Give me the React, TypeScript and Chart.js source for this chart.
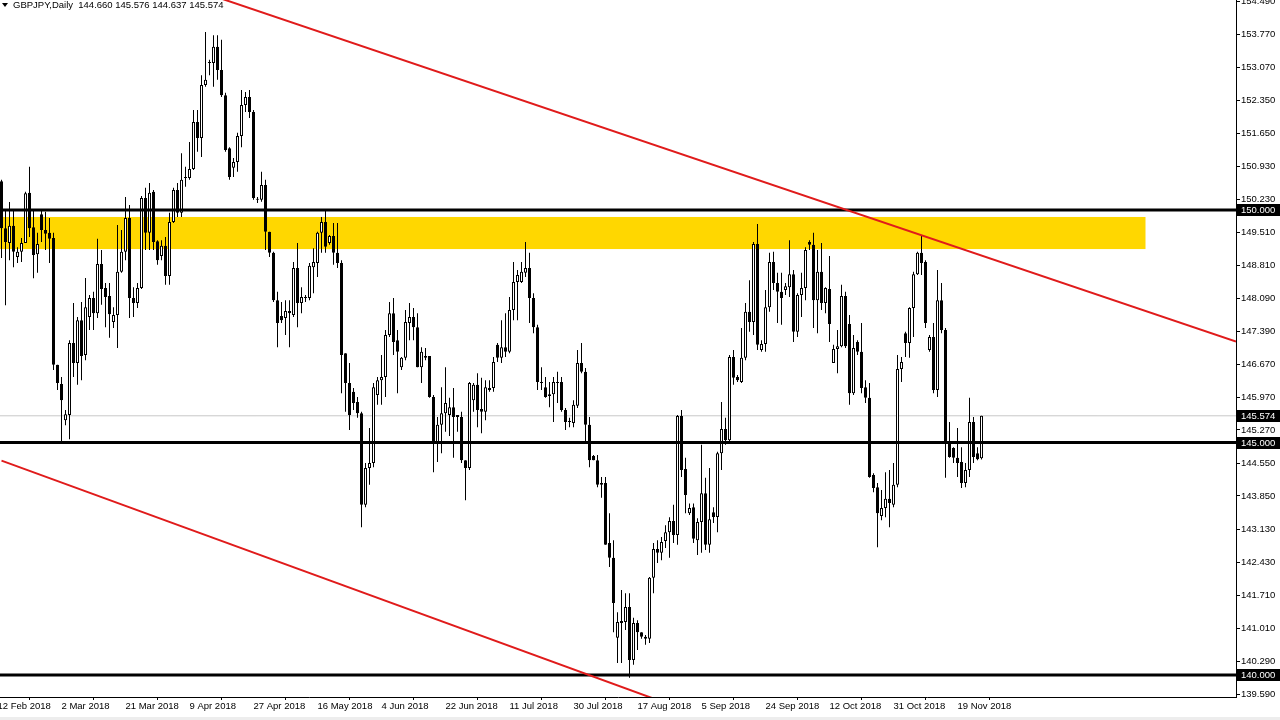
import React, { useEffect, useRef } from 'react';
import { Chart, registerables } from 'chart.js';

Chart.register(...registerables);

// ---- Daily GBPJPY candles (one per bar, Sunday bars included) ----
const opens = [
  150.62, 149.61, 149.29, 149.66, 148.99, 149.10, 149.29, 150.37, 149.63, 149.05,
  149.91, 149.57, 149.51, 149.40, 146.67, 146.26, 145.48, 145.59, 147.14, 146.71,
  147.63, 146.88, 147.70, 148.11, 147.78, 148.84, 148.32, 148.15, 147.59, 147.74,
  148.67, 149.10, 149.83, 148.11, 148.00, 148.32, 150.26, 149.51, 150.39, 149.33,
  149.01, 149.23, 148.58, 149.74, 150.43, 149.94, 150.69, 150.69, 150.88, 151.89,
  151.55, 152.69, 153.16, 153.16, 153.51, 153.01, 152.47, 151.33, 150.91, 151.03,
  151.59, 152.26, 152.43, 152.11, 150.24, 150.22, 150.54, 149.53, 149.08, 148.06,
  147.72, 147.68, 147.83, 147.74, 148.75, 148.00, 148.11, 148.11, 148.77, 148.86,
  149.51, 149.74, 149.29, 149.44, 149.08, 148.86, 146.92, 146.28, 146.09, 145.87,
  145.63, 143.66, 144.45, 144.56, 146.02, 146.34, 146.41, 147.31, 147.78, 147.20,
  146.62, 146.82, 147.57, 147.70, 147.48, 146.62, 146.82, 146.86, 145.98, 145.01,
  145.38, 145.63, 145.59, 145.76, 145.59, 145.55, 144.62, 144.45, 145.91, 146.24,
  145.72, 145.66, 146.13, 146.17, 147.10, 146.82, 147.05, 146.95, 147.85, 148.45,
  148.45, 148.65, 148.75, 148.11, 147.48, 146.30, 146.19, 146.00, 146.04, 146.30,
  146.30, 145.70, 145.44, 145.42, 145.79, 146.71, 146.52, 145.38, 144.71, 144.62,
  144.09, 144.13, 142.84, 142.52, 140.80, 141.16, 141.14, 141.46, 140.32, 141.12,
  140.92, 140.82, 140.78, 142.09, 142.71, 142.63, 142.88, 143.07, 143.31, 143.01,
  145.57, 144.43, 143.48, 143.61, 142.90, 143.29, 143.91, 142.80, 143.50, 143.40,
  144.77, 145.29, 145.05, 146.84, 146.41, 146.30, 146.82, 147.81, 147.59, 149.27,
  146.99, 147.12, 147.91, 148.88, 148.43, 148.24, 148.28, 148.34, 148.62, 147.38,
  148.17, 148.32, 149.31, 149.25, 148.06, 148.67, 148.00, 148.30, 146.71, 147.01,
  147.07, 148.15, 147.55, 146.06, 147.16, 146.95, 146.19, 145.96, 144.30, 144.04,
  143.42, 143.59, 143.79, 143.66, 144.09, 146.58, 147.35, 147.14, 147.89, 148.62,
  149.08, 148.88, 146.99, 147.27, 146.13, 148.06, 147.42, 144.99, 144.88, 144.67,
  144.58, 144.13, 144.41, 145.44, 144.77, 144.66,
];
const highs = [
  150.65, 150.00, 150.17, 150.00, 149.20, 149.40, 150.39, 150.93, 150.00, 149.51,
  150.00, 149.96, 149.83, 149.51, 146.67, 146.41, 145.70, 147.20, 148.00, 147.70,
  148.02, 148.54, 148.17, 148.24, 149.38, 149.14, 148.43, 148.43, 147.91, 149.68,
  149.57, 150.28, 150.11, 148.34, 148.43, 150.30, 150.48, 150.58, 150.43, 149.35,
  149.35, 149.42, 149.94, 150.48, 150.58, 151.22, 150.93, 151.46, 152.15, 152.15,
  152.90, 153.83, 153.23, 153.76, 153.76, 153.66, 152.52, 151.35, 151.12, 151.66,
  152.58, 152.54, 152.58, 152.15, 150.28, 150.82, 150.65, 149.53, 149.10, 148.24,
  148.02, 148.06, 148.06, 148.88, 149.29, 148.34, 148.17, 148.86, 149.18, 149.53,
  149.85, 150.00, 149.46, 149.72, 149.72, 148.92, 146.92, 146.71, 146.17, 145.98,
  145.66, 144.56, 145.31, 146.28, 146.41, 146.88, 147.42, 148.02, 148.11, 147.42,
  146.84, 147.85, 148.00, 147.89, 147.78, 147.05, 147.03, 146.86, 146.02, 145.55,
  146.19, 146.62, 145.96, 146.17, 145.59, 145.66, 144.62, 146.30, 146.28, 146.49,
  146.39, 146.34, 146.34, 146.84, 147.14, 147.63, 147.78, 148.13, 148.88, 148.71,
  148.88, 149.31, 149.08, 148.21, 147.53, 146.62, 146.41, 146.30, 146.41, 146.52,
  146.41, 145.74, 145.53, 145.91, 146.99, 147.14, 146.60, 145.55, 144.73, 144.73,
  144.26, 144.26, 143.48, 142.90, 141.35, 141.83, 141.76, 141.76, 141.23, 141.18,
  140.92, 140.86, 142.11, 142.84, 142.90, 142.97, 143.22, 143.39, 143.66, 145.59,
  145.70, 144.67, 143.69, 143.69, 143.37, 144.95, 144.24, 144.45, 143.61, 144.80,
  145.87, 145.53, 146.88, 146.99, 146.45, 147.46, 148.00, 148.49, 149.31, 149.70,
  147.20, 148.28, 149.08, 149.10, 148.65, 148.65, 148.43, 149.35, 148.71, 148.21,
  148.65, 149.20, 149.35, 149.51, 149.14, 149.29, 148.34, 149.01, 147.10, 147.42,
  148.39, 148.24, 147.74, 147.31, 147.20, 147.57, 146.34, 146.28, 144.34, 144.13,
  143.98, 144.36, 144.41, 144.56, 146.88, 146.84, 147.38, 147.91, 148.67, 149.10,
  149.46, 148.92, 147.31, 147.57, 148.71, 148.43, 147.46, 145.44, 144.90, 145.31,
  144.90, 144.56, 145.96, 145.55, 144.90, 145.576,
];
const lows = [
  148.97, 147.95, 148.92, 148.77, 148.86, 148.88, 149.29, 149.42, 148.53, 148.65,
  149.31, 149.14, 148.86, 146.56, 146.13, 144.99, 145.37, 145.07, 146.41, 146.24,
  146.34, 146.77, 147.42, 147.42, 147.68, 147.96, 147.48, 147.25, 147.46, 147.03,
  148.65, 148.92, 147.68, 147.70, 147.89, 148.30, 149.14, 149.14, 149.14, 148.82,
  148.92, 148.39, 148.39, 149.72, 149.85, 149.85, 150.50, 150.65, 150.86, 151.25,
  151.14, 152.65, 152.90, 152.65, 152.80, 152.43, 151.25, 150.65, 150.71, 150.82,
  151.35, 152.11, 151.98, 150.22, 150.15, 150.18, 149.14, 148.99, 148.02, 147.05,
  147.57, 147.31, 147.05, 147.70, 147.48, 147.78, 148.02, 148.06, 148.21, 148.56,
  149.08, 149.08, 149.25, 148.82, 148.75, 146.06, 145.66, 145.27, 145.70, 145.53,
  143.18, 143.61, 144.09, 144.47, 145.81, 145.81, 145.98, 147.27, 146.88, 146.06,
  146.56, 146.77, 147.20, 147.20, 146.62, 146.28, 146.77, 145.96, 144.36, 144.58,
  144.77, 145.23, 145.14, 144.67, 145.23, 144.56, 143.76, 144.41, 145.66, 145.33,
  145.20, 145.48, 146.09, 146.09, 146.73, 146.71, 146.84, 146.92, 147.63, 147.63,
  148.43, 148.56, 147.57, 147.35, 146.13, 146.13, 145.96, 145.76, 145.44, 145.85,
  145.66, 145.27, 145.33, 145.33, 145.74, 146.49, 144.99, 144.47, 144.62, 144.04,
  143.81, 142.80, 142.32, 140.92, 140.26, 140.26, 140.97, 139.94, 140.22, 140.54,
  140.78, 140.65, 140.69, 141.76, 142.41, 142.47, 142.73, 142.52, 142.84, 142.80,
  144.26, 143.48, 143.44, 142.84, 142.58, 142.63, 142.69, 142.63, 143.27, 143.07,
  144.41, 144.95, 145.01, 146.24, 146.30, 146.28, 146.77, 147.38, 147.31, 146.99,
  146.95, 146.95, 147.81, 148.28, 147.57, 147.53, 148.17, 148.13, 147.16, 147.27,
  147.70, 148.06, 149.14, 147.46, 147.35, 147.85, 147.78, 147.16, 146.71, 146.49,
  147.05, 147.03, 145.81, 146.02, 146.88, 146.06, 145.85, 144.24, 143.93, 142.75,
  143.33, 143.39, 143.18, 143.61, 144.04, 146.30, 146.84, 146.82, 147.27, 148.60,
  148.60, 147.46, 146.95, 146.06, 145.98, 147.35, 144.24, 144.67, 144.56, 144.26,
  144.02, 144.04, 144.26, 144.56, 144.62, 144.637,
];
const closes = [
  149.61, 149.31, 149.66, 149.10, 149.10, 149.29, 150.36, 149.61, 149.03, 149.27,
  149.57, 149.49, 149.38, 146.67, 146.28, 145.91, 145.61, 147.14, 146.71, 147.63,
  146.86, 147.91, 148.11, 147.78, 148.84, 148.30, 148.13, 147.76, 147.74, 148.67,
  149.10, 149.83, 148.11, 148.00, 148.32, 150.26, 149.51, 150.37, 149.31, 148.92,
  149.23, 148.58, 149.74, 150.43, 149.94, 150.65, 150.69, 150.88, 151.89, 151.55,
  152.69, 152.80, 153.16, 153.51, 153.01, 152.47, 151.29, 150.71, 151.03, 151.59,
  152.26, 152.43, 152.11, 150.26, 150.22, 150.54, 149.53, 149.08, 148.06, 147.57,
  147.63, 147.83, 147.78, 148.75, 148.00, 148.13, 148.11, 148.80, 148.88, 149.51,
  149.74, 149.21, 149.44, 149.08, 148.86, 146.88, 146.28, 145.59, 145.85, 145.63,
  143.66, 144.45, 144.56, 146.19, 146.34, 146.41, 147.31, 147.78, 147.16, 146.95,
  146.82, 147.59, 147.70, 147.48, 146.62, 146.95, 146.86, 145.98, 145.01, 145.38,
  145.63, 145.85, 145.76, 145.55, 145.55, 144.62, 144.45, 146.28, 146.24, 145.70,
  145.66, 146.19, 146.17, 146.73, 146.82, 147.05, 146.95, 147.85, 148.45, 148.60,
  148.67, 148.75, 148.11, 147.48, 146.30, 146.28, 145.98, 146.04, 146.30, 146.28,
  145.70, 145.44, 145.44, 145.81, 146.71, 146.52, 145.38, 144.62, 144.62, 144.09,
  144.13, 142.80, 142.52, 141.55, 141.14, 141.12, 141.46, 140.32, 141.12, 140.92,
  140.82, 140.78, 142.09, 142.71, 142.63, 142.86, 143.07, 143.31, 143.01, 145.57,
  144.41, 143.87, 143.59, 142.93, 143.29, 143.91, 142.80, 143.35, 143.40, 144.77,
  145.29, 145.05, 146.84, 146.39, 146.34, 146.82, 147.81, 147.59, 149.27, 147.10,
  147.12, 147.91, 148.88, 148.43, 148.24, 148.11, 148.36, 148.62, 147.38, 148.17,
  148.32, 149.14, 149.25, 148.06, 148.67, 148.00, 148.32, 147.55, 147.01, 147.07,
  148.15, 147.07, 146.06, 147.03, 146.95, 146.17, 145.96, 144.26, 144.02, 143.48,
  143.59, 143.79, 143.70, 144.09, 146.58, 146.73, 147.14, 147.89, 148.62, 149.08,
  148.86, 147.57, 147.27, 146.13, 148.06, 147.42, 144.99, 144.69, 144.67, 144.56,
  144.13, 144.41, 145.44, 144.69, 144.64, 145.574,
];

// ---- axes ----
const xTickBars = [-1, 15, 31, 47, 63, 79, 95, 111, 127, 143, 159, 175, 191, 207, 223, 239];
const xTickLabels = [
  '12 Feb 2018', '2 Mar 2018', '21 Mar 2018', '9 Apr 2018', '27 Apr 2018', '16 May 2018',
  '4 Jun 2018', '22 Jun 2018', '11 Jul 2018', '30 Jul 2018', '17 Aug 2018', '5 Sep 2018',
  '24 Sep 2018', '12 Oct 2018', '31 Oct 2018', '19 Nov 2018',
];
const yTickValues = [
  154.49, 153.77, 153.07, 152.35, 151.65, 150.93, 150.23, 149.51, 148.81, 148.09, 147.39,
  146.67, 145.97, 145.27, 144.55, 143.85, 143.13, 142.43, 141.71, 141.01, 140.29, 139.59,
];
const X_MIN = -0.375;
const X_MAX = 308.625;
const Y_MIN = 139.527;
const Y_MAX = 154.516;

// ---- drawn objects ----
const levelPrices = [150.0, 145.0, 140.0];
const bidPrice = 145.574;
const priceTags = [150.0, 145.574, 145.0, 140.0];
const zoneTop = 149.85;
const zoneBottom = 149.16;
const zoneEndBar = 286;
const upperTrendBars = [50, 308.625];
const upperTrendPrices = [154.69, 147.17];
const lowerTrendBars = [0, 180];
const lowerTrendPrices = [144.61, 138.96];
const headerText = 'GBPJPY,Daily  144.660 145.576 144.637 145.574';

const FONT = 'Liberation Sans';

export default function App() {
  const ref = useRef<HTMLCanvasElement | null>(null);

  useEffect(() => {
    document.body.style.margin = '0';
    document.body.style.overflow = 'hidden';
    const canvas = ref.current;
    if (!canvas) return;

    const bodies = opens.map((o, i) => ({ x: i, y: [o, closes[i]] }));
    const wicks = lows.map((l, i) => ({ x: i, y: [l, highs[i]] }));
    const hLine = (p: number) => [{ x: X_MIN, y: p }, { x: X_MAX, y: p }];

    const zonePlugin = {
      id: 'zone',
      beforeDatasetsDraw(chart: any) {
        const { ctx, chartArea, scales } = chart;
        const xEnd = scales.x.getPixelForValue(zoneEndBar);
        const y1 = scales.y.getPixelForValue(zoneTop);
        const y2 = scales.y.getPixelForValue(zoneBottom);
        ctx.save();
        ctx.fillStyle = '#FFD700';
        ctx.fillRect(chartArea.left, y1, xEnd - chartArea.left, y2 - y1);
        ctx.restore();
      },
    };

    const tagsPlugin = {
      id: 'tags',
      afterDraw(chart: any) {
        const { ctx, scales, chartArea } = chart;
        ctx.save();
        ctx.font = `9.5px "${FONT}"`;
        ctx.textBaseline = 'middle';
        ctx.textAlign = 'left';
        priceTags.forEach((p) => {
          const y = Math.round(scales.y.getPixelForValue(p));
          ctx.fillStyle = '#000';
          ctx.fillRect(chartArea.right + 1, y - 6, 43, 12);
          ctx.fillStyle = '#fff';
          ctx.fillText(p.toFixed(3), chartArea.right + 5, y + 0.5);
        });
        // header
        ctx.fillStyle = '#000';
        ctx.beginPath();
        ctx.moveTo(2, 3);
        ctx.lineTo(8, 3);
        ctx.lineTo(5, 7);
        ctx.closePath();
        ctx.fill();
        ctx.fillText(headerText, 13, 5.5);
        // bottom window edge
        ctx.fillStyle = '#EDEDED';
        ctx.fillRect(0, 717, 1280, 3);
        ctx.restore();
      },
    };

    const chart = new Chart(canvas, {
      type: 'bar',
      data: {
        datasets: [
          {
            type: 'line',
            label: 'upper trend',
            data: upperTrendBars.map((b, i) => ({ x: b, y: upperTrendPrices[i] })),
            borderColor: '#E01B1B',
            borderWidth: 2,
            pointRadius: 0,
            order: 0,
          },
          {
            type: 'line',
            label: 'lower trend',
            data: lowerTrendBars.map((b, i) => ({ x: b, y: lowerTrendPrices[i] })),
            borderColor: '#E01B1B',
            borderWidth: 2,
            pointRadius: 0,
            order: 0,
          },
          ...levelPrices.map((p) => ({
            type: 'line' as const,
            label: 'level ' + p,
            data: hLine(p),
            borderColor: '#000',
            borderWidth: 3,
            pointRadius: 0,
            order: 0,
          })),
          {
            type: 'line',
            label: 'bid',
            data: hLine(bidPrice),
            borderColor: '#C8C8C8',
            borderWidth: 1,
            pointRadius: 0,
            order: 5,
          },
          {
            type: 'bar',
            label: 'bodies',
            data: bodies as any,
            barThickness: 3,
            borderWidth: 1,
            borderSkipped: false,
            minBarLength: 1,
            grouped: false,
            inflateAmount: 0,
            borderColor: '#000',
            backgroundColor: (c: any) => {
              const i = c.dataIndex;
              return closes[i] >= opens[i] ? '#FFFFFF' : '#000000';
            },
            order: 1,
          },
          {
            type: 'bar',
            label: 'wicks',
            data: wicks as any,
            barThickness: 1,
            borderWidth: 0,
            grouped: false,
            inflateAmount: 0,
            backgroundColor: '#000',
            order: 2,
          },
        ] as any,
      },
      options: {
        animation: false,
        responsive: false,
        events: [],
        layout: { padding: 0, autoPadding: false },
        plugins: { legend: { display: false }, tooltip: { enabled: false }, title: { display: false } },
        scales: {
          x: {
            type: 'linear',
            position: 'bottom',
            min: X_MIN,
            max: X_MAX,
            offset: false,
            grid: { display: true, drawOnChartArea: false, drawTicks: true, tickLength: 3, color: '#000' },
            border: { display: true, color: '#000', width: 1 },
            ticks: {
              autoSkip: false,
              align: 'start',
              maxRotation: 0,
              minRotation: 0,
              padding: 1,
              color: '#000',
              font: { family: FONT, size: 9.5 },
              callback: (v: any) => {
                const k = xTickBars.indexOf(Number(v));
                return k >= 0 ? xTickLabels[k] : '';
              },
            },
            afterBuildTicks: (s: any) => {
              s.ticks = xTickBars.map((v) => ({ value: v }));
            },
            afterFit: (s: any) => {
              s.height = 23;
              s.paddingLeft = 0;
              s.paddingRight = 0;
            },
          },
          y: {
            type: 'linear',
            position: 'right',
            min: Y_MIN,
            max: Y_MAX,
            beginAtZero: false,
            grid: { display: true, drawOnChartArea: false, drawTicks: true, tickLength: 4, color: '#000' },
            border: { display: true, color: '#000', width: 1 },
            ticks: {
              padding: 1,
              color: '#000',
              font: { family: FONT, size: 9.5 },
              callback: (v: any) => Number(v).toFixed(3),
            },
            afterBuildTicks: (s: any) => {
              s.ticks = yTickValues.map((v) => ({ value: v }));
            },
            afterFit: (s: any) => {
              s.width = 44;
              s.paddingTop = 0;
              s.paddingBottom = 0;
            },
          },
        },
      } as any,
      plugins: [zonePlugin, tagsPlugin],
    });

    return () => chart.destroy();
  }, []);

  return (
    <div style={{ width: 1280, height: 720, background: '#fff' }}>
      <canvas ref={ref} width={1280} height={720} style={{ display: 'block', width: 1280, height: 720 }} />
    </div>
  );
}
